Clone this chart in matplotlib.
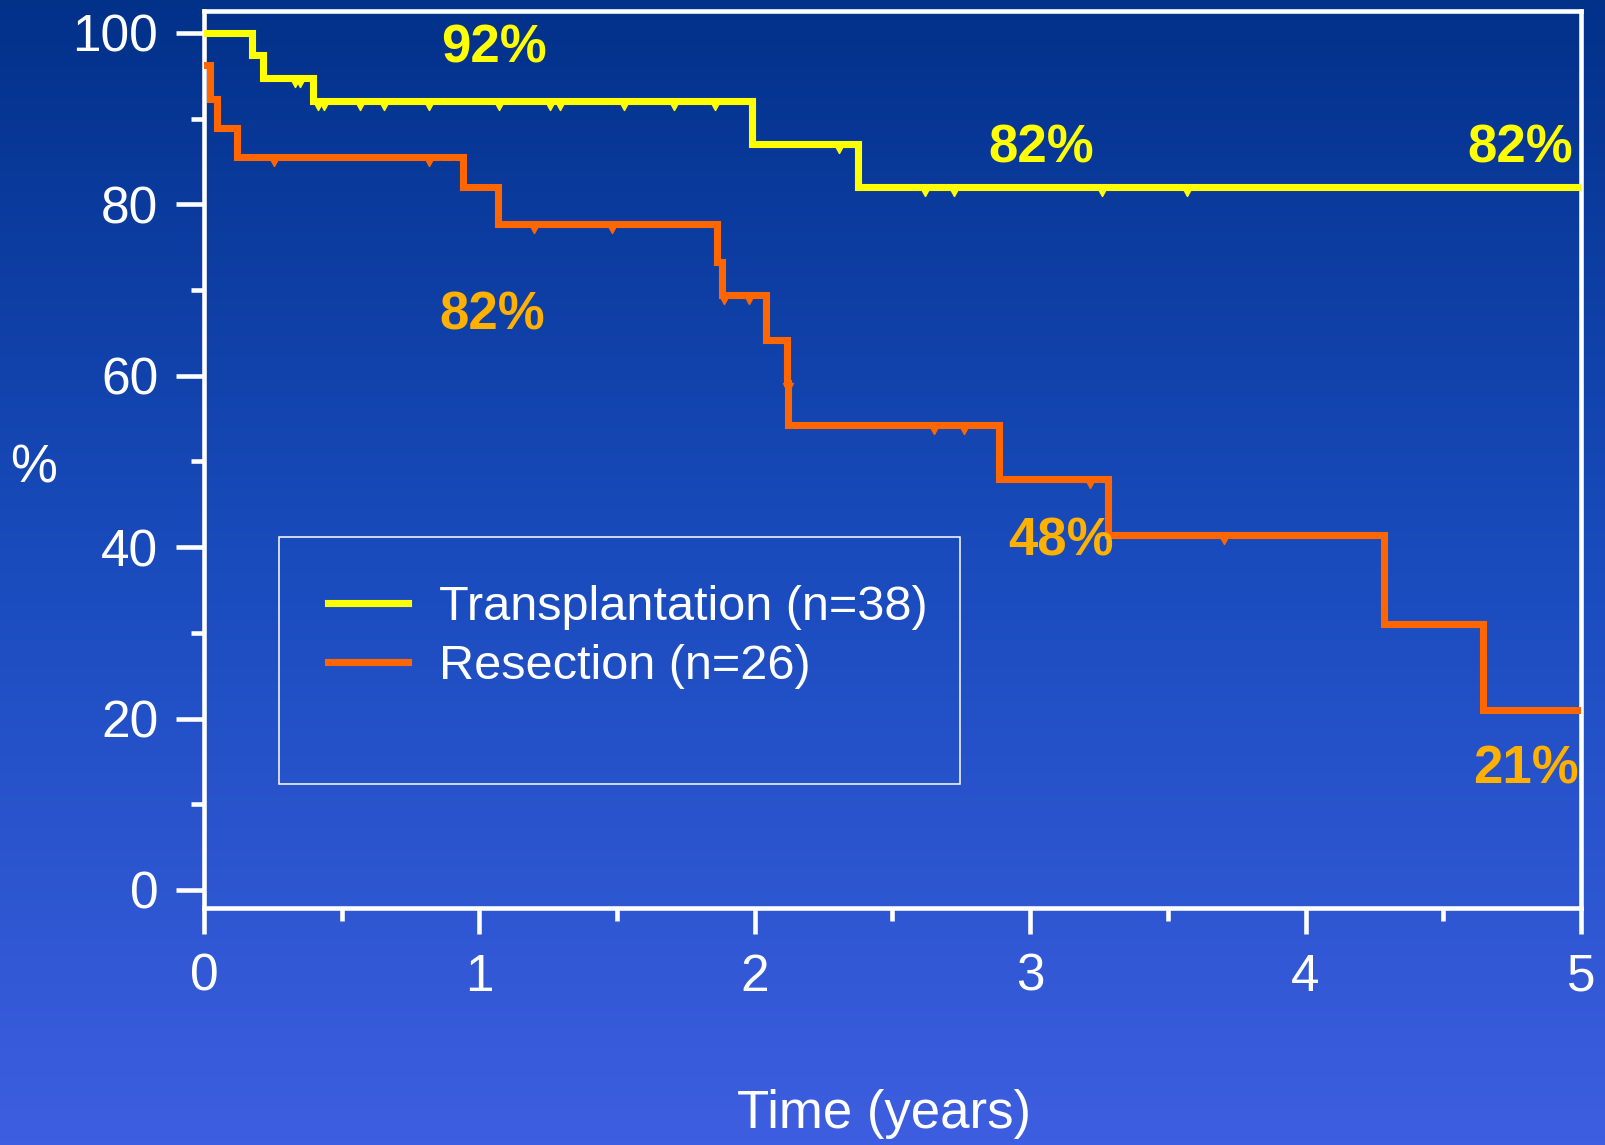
import matplotlib.pyplot as plt
import numpy as np
from matplotlib.colors import LinearSegmentedColormap
from matplotlib.markers import MarkerStyle
from matplotlib.path import Path
from matplotlib.patches import Rectangle

plt.rcParams['font.family'] = ['Liberation Sans', 'DejaVu Sans']

# Kaplan-Meier steps (years, % surviving)
tx_times = [0, 0.174, 0.214, 0.396, 1.99, 2.376, 5.0]
tx_surv = [100, 97.4, 94.7, 92, 87, 82, 82]
tx_censored = [0.33, 0.35, 0.414, 0.436, 0.567, 0.654, 0.817, 1.07, 1.257,
               1.293, 1.526, 1.707, 1.856, 2.307, 2.619, 2.724, 3.26, 3.57]

rs_times = [0, 0.022, 0.047, 0.12, 0.94, 1.068, 1.864, 1.882, 2.042, 2.117,
            2.122, 2.887, 3.281, 4.286, 4.643, 5.0]
rs_surv = [96.2, 92.3, 88.9, 85.5, 82, 77.7, 73.3, 69.4, 64.2, 59.2,
           54.3, 48, 41.4, 31, 21, 21]
rs_censored = [0.254, 0.817, 1.199, 1.48, 1.89, 1.98, 2.119, 2.652, 2.76,
               3.218, 3.705]

tx_label = 'Transplantation (n=38)'
rs_label = 'Resection (n=26)'

# survival rates called out at 1, 3 and 5 years
tx_callout_years = [1, 3, 5]
rs_callout_years = [1, 3, 5]

YELLOW = '#FFFF00'
ORANGE = '#FF6600'
ORANGE_TXT = '#FFB000'


def surv_at(times, surv, t):
    idx = np.searchsorted(times, t, side='right') - 1
    return np.asarray(surv)[idx]


fig = plt.figure(figsize=(16.06, 11.45), dpi=100)

# blue slide background
bg = fig.add_axes([0, 0, 1, 1], zorder=-10)
cmap = LinearSegmentedColormap.from_list('slide', ['#02318a', '#1a4cbe', '#3d5ee0'])
bg.imshow(np.linspace(0, 1, 256).reshape(-1, 1), aspect='auto', cmap=cmap,
          extent=[0, 1, 0, 1])
bg.axis('off')

ax = fig.add_axes([0.127, 0.2066, 0.8574, 0.7842])
ax.set_facecolor('none')

# censor tick hanging under the line
notch = MarkerStyle(Path([(-0.55, 0), (0.55, 0), (0, -1), (-0.55, 0)],
                         [Path.MOVETO, Path.LINETO, Path.LINETO, Path.CLOSEPOLY]))

l1, = ax.step(tx_times, tx_surv, where='post', color=YELLOW, lw=5.1,
              solid_joinstyle='miter', label=tx_label, zorder=3)
l2, = ax.step(rs_times, rs_surv, where='post', color=ORANGE, lw=5.1,
              solid_joinstyle='miter', label=rs_label, zorder=3)

ax.plot(tx_censored, surv_at(tx_times, tx_surv, tx_censored), ls='none',
        marker=notch, ms=13, color=YELLOW, zorder=4)
ax.plot(rs_censored, surv_at(rs_times, rs_surv, rs_censored), ls='none',
        marker=notch, ms=13, color=ORANGE, zorder=4)

# percentage callouts
tx_pos = [(1.053, 98.2), (3.04, 86.5), (4.78, 86.5)]
rs_pos = [(1.045, 67.0), (3.113, 40.7), (4.80, 14.1)]
for yr, (x, y) in zip(tx_callout_years, tx_pos):
    ax.text(x, y, f'{surv_at(tx_times, tx_surv, yr - 1e-9):.0f}%', color=YELLOW,
            fontsize=38, fontweight='bold', ha='center', va='center', clip_on=False)
for yr, (x, y) in zip(rs_callout_years, rs_pos):
    ax.text(x, y, f'{surv_at(rs_times, rs_surv, yr - 1e-9):.0f}%', color=ORANGE_TXT,
            fontsize=38, fontweight='bold', ha='center', va='center', clip_on=False)

ax.set_xlim(0, 5)
ax.set_ylim(-2.16, 102.6)
ax.set_xticks(np.arange(0, 6, 1))
ax.set_xticks(np.arange(0.5, 5, 1), minor=True)
ax.set_yticks(np.arange(0, 101, 20))
ax.set_yticks(np.arange(10, 100, 20), minor=True)

for sp in ax.spines.values():
    sp.set_color('white')
    sp.set_linewidth(3.3)

ax.tick_params(which='both', direction='out', colors='white', width=3.3,
               labelsize=37, pad=13)
ax.tick_params(axis='y', which='major', length=20)
ax.tick_params(axis='y', which='minor', length=9.5)
ax.tick_params(axis='x', which='major', length=19)
ax.tick_params(axis='x', which='minor', length=9.6)

ax.set_ylabel('%', rotation=0, color='white', fontsize=38, ha='center', va='center')
ax.yaxis.set_label_coords(-0.1235, 0.4905)
ax.set_xlabel('Time (years)', color='white', fontsize=38, ha='center', va='center')
ax.xaxis.set_label_coords(0.4938, -0.2288)

leg = ax.legend(handles=[l1, l2], loc='upper left', frameon=False, fontsize=35,
                handlelength=1.65, handletextpad=0.65, labelspacing=0.3,
                borderpad=0, borderaxespad=0,
                bbox_to_anchor=(0.204, 0.4893), bbox_transform=fig.transFigure)
for txt in leg.get_texts():
    txt.set_color('white')

fig.patches.append(Rectangle((0.1735, 0.3157), 0.424, 0.2155, fill=False,
                             edgecolor='white', lw=1.1, transform=fig.transFigure))

fig.savefig('out.png', dpi=100)
